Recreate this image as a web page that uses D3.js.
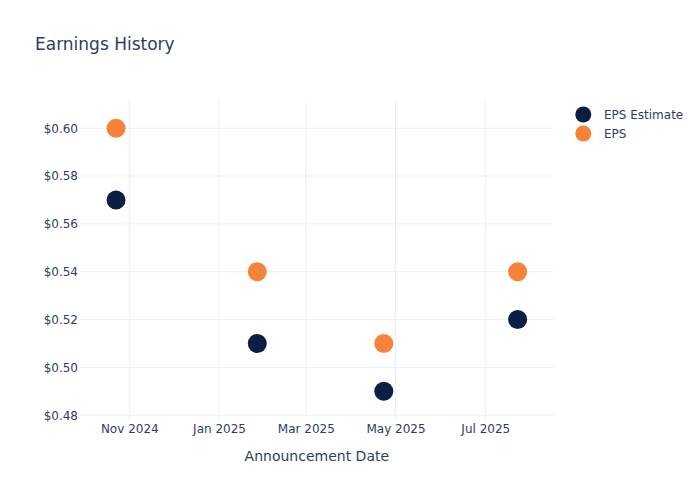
<!DOCTYPE html>
<html><head><meta charset="utf-8">
<script src="https://cdn.jsdelivr.net/npm/d3@7"></script>
<style>body{margin:0;background:#fff;} text{font-family:"DejaVu Sans",sans-serif;}</style>
</head><body>
<svg id="chart" width="700" height="500"></svg>
<script>
const dates = ["2024-10-23", "2025-01-27", "2025-04-23", "2025-07-23"];
const epsEstimate = [0.57, 0.51, 0.49, 0.52];
const eps = [0.60, 0.54, 0.51, 0.54];
const yTicks = [0.48, 0.50, 0.52, 0.54, 0.56, 0.58, 0.60];
const xTicks = ["2024-11-01", "2025-01-01", "2025-03-01", "2025-05-01", "2025-07-01"];
const seriesNames = ["EPS Estimate", "EPS"];
const colors = ["#0b1f42", "#f7823a"];

const svg = d3.select("#chart");
const W = 700, H = 500;
const L = 80, R = 553.7, T = 100, B = 420;
const parse = d3.utcParse("%Y-%m-%d");
const x = d3.scaleUtc()
  .domain([new Date(Date.UTC(2024, 8, 28, 12)), new Date(Date.UTC(2025, 7, 16, 12))])
  .range([L, R]);
const y = d3.scaleLinear().domain([0.478, 0.6118]).range([B, T]);
const textColor = "#2a3f5f";
const gridColor = "#ebf0f8";

svg.append("rect").attr("width", W).attr("height", H).attr("fill", "#fff");

// gridlines
const g = svg.append("g");
g.selectAll(".vg").data(xTicks).join("line")
  .attr("x1", d => x(parse(d))).attr("x2", d => x(parse(d)))
  .attr("y1", T).attr("y2", B).attr("stroke", gridColor).attr("stroke-width", 1);
g.selectAll(".hg").data(yTicks).join("line")
  .attr("x1", L).attr("x2", R)
  .attr("y1", d => y(d)).attr("y2", d => y(d)).attr("stroke", gridColor).attr("stroke-width", 1);

// axes
const xAxis = d3.axisBottom(x).tickValues(xTicks.map(parse))
  .tickFormat(d3.utcFormat("%b %Y")).tickSize(0).tickPadding(4.5);
const xa = svg.append("g").attr("transform", `translate(0,${B})`).call(xAxis);
xa.select(".domain").remove();
xa.selectAll("text").attr("fill", textColor).style("font-size", "12px").style("font-family", "DejaVu Sans");

const yAxis = d3.axisLeft(y).tickValues(yTicks)
  .tickFormat(d => "$" + d3.format(".2f")(d)).tickSize(0).tickPadding(2);
const ya = svg.append("g").attr("transform", `translate(${L},0)`).call(yAxis);
ya.select(".domain").remove();
ya.selectAll("text").attr("fill", textColor).style("font-size", "12px").style("font-family", "DejaVu Sans");

// points
const series = [epsEstimate, eps];
series.forEach((vals, i) => {
  svg.append("g").selectAll("circle").data(vals).join("circle")
    .attr("cx", (d, j) => x(parse(dates[j])))
    .attr("cy", d => y(d))
    .attr("r", 9.5)
    .attr("fill", colors[i]);
});

// title
svg.append("text").attr("x", 35).attr("y", 50).attr("fill", textColor)
  .style("font-size", "17px").text("Earnings History");
svg.append("text").attr("x", (L + R) / 2).attr("y", 461).attr("text-anchor", "middle")
  .attr("fill", textColor).style("font-size", "14px").text("Announcement Date");

// legend
const lg = svg.append("g");
seriesNames.forEach((n, i) => {
  const yy = 114.5 + i * 19;
  lg.append("circle").attr("cx", 583.3).attr("cy", yy).attr("r", 8).attr("fill", colors[i]);
  lg.append("text").attr("x", 604).attr("y", yy + 4.5).attr("fill", textColor)
    .style("font-size", "12px").text(n);
});
</script>
</body></html>
